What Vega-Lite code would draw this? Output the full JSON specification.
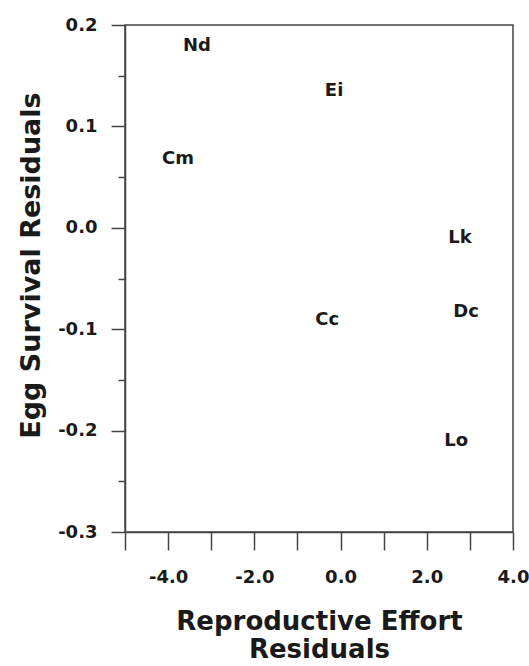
{
  "$schema": "https://vega.github.io/schema/vega-lite/v6.json",
  "autosize": {"type": "none"},
  "width": 388,
  "height": 507,
  "padding": {"left": 125, "top": 25, "right": 16, "bottom": 134},
  "background": "white",
  "config": {
    "font": "DejaVu Sans",
    "view": {"stroke": "#444", "strokeWidth": 1.5},
    "axis": {"grid": false, "domainColor": "#444", "domainWidth": 1.5, "tickColor": "#444", "tickWidth": 1.5, "labelColor": "#1a1a1a", "titleColor": "#1a1a1a", "labelFont": "DejaVu Sans", "titleFont": "DejaVu Sans", "labelFontWeight": "bold", "titleFontWeight": "bold"}
  },
  "data": {
    "values": [
      {"code": "Nd", "re": -3.33, "es": 0.179},
      {"code": "Ei", "re": -0.15, "es": 0.135},
      {"code": "Cm", "re": -3.77, "es": 0.068},
      {"code": "Lk", "re": 2.77, "es": -0.010},
      {"code": "Dc", "re": 2.91, "es": -0.083},
      {"code": "Cc", "re": -0.31, "es": -0.091},
      {"code": "Lo", "re": 2.68, "es": -0.210}
    ]
  },
  "layer": [
    {
      "mark": {"type": "text", "font": "DejaVu Sans", "fontWeight": "bold", "fontSize": 18, "color": "#1a1a1a", "align": "center", "baseline": "middle"},
      "encoding": {
        "x": {
          "field": "re", "type": "quantitative",
          "scale": {"domain": [-5, 4], "nice": false, "zero": false},
          "axis": {
            "values": [-5, -4, -3, -2, -1, 0, 1, 2, 3, 4],
            "tickSize": 18,
            "labelFontSize": 18,
            "labelPadding": 18,
            "labelOverlap": false,
            "labelFlush": false,
            "labelBound": false,
            "labelExpr": "(datum.value % 2 == 0) ? ((datum.value < 0 ? '-' : '') + format(abs(datum.value), '.1f')) : ''",
            "title": ["Reproductive  Effort", "Residuals"],
            "titleFontSize": 26,
            "titleLineHeight": 28,
            "titleBaseline": "alphabetic",
            "titleAlign": "center",
            "titleX": 194,
            "titleY": 97
          }
        },
        "y": {
          "field": "es", "type": "quantitative",
          "scale": {"domain": [-0.3, 0.2], "nice": false, "zero": false},
          "axis": {
            "values": [-0.3, -0.2, -0.1, 0, 0.1, 0.2],
            "labelExpr": "(datum.value < -0.001 ? '-' : '') + format(abs(datum.value), '.1f')",
            "tickSize": 14,
            "labelFontSize": 18,
            "labelPadding": 14,
            "labelOverlap": false,
            "labelBound": false,
            "labelFlush": false,
            "title": "Egg Survival Residuals",
            "titleFontSize": 27,
            "titleAngle": -90,
            "titleAlign": "center",
            "titleBaseline": "middle",
            "titleX": -94,
            "titleY": 240
          }
        },
        "text": {"field": "code"}
      }
    },
    {
      "mark": {"type": "point", "opacity": 0},
      "encoding": {
        "x": {"field": "re", "type": "quantitative"},
        "y": {
          "field": "es", "type": "quantitative",
          "axis": {
            "orient": "left",
            "values": [-0.25, -0.15, -0.05, 0.05, 0.15],
            "tickSize": 7,
            "labels": false,
            "domain": false,
            "title": null
          }
        }
      }
    }
  ],
  "resolve": {"scale": {"y": "shared", "x": "shared"}, "axis": {"y": "independent"}}
}
